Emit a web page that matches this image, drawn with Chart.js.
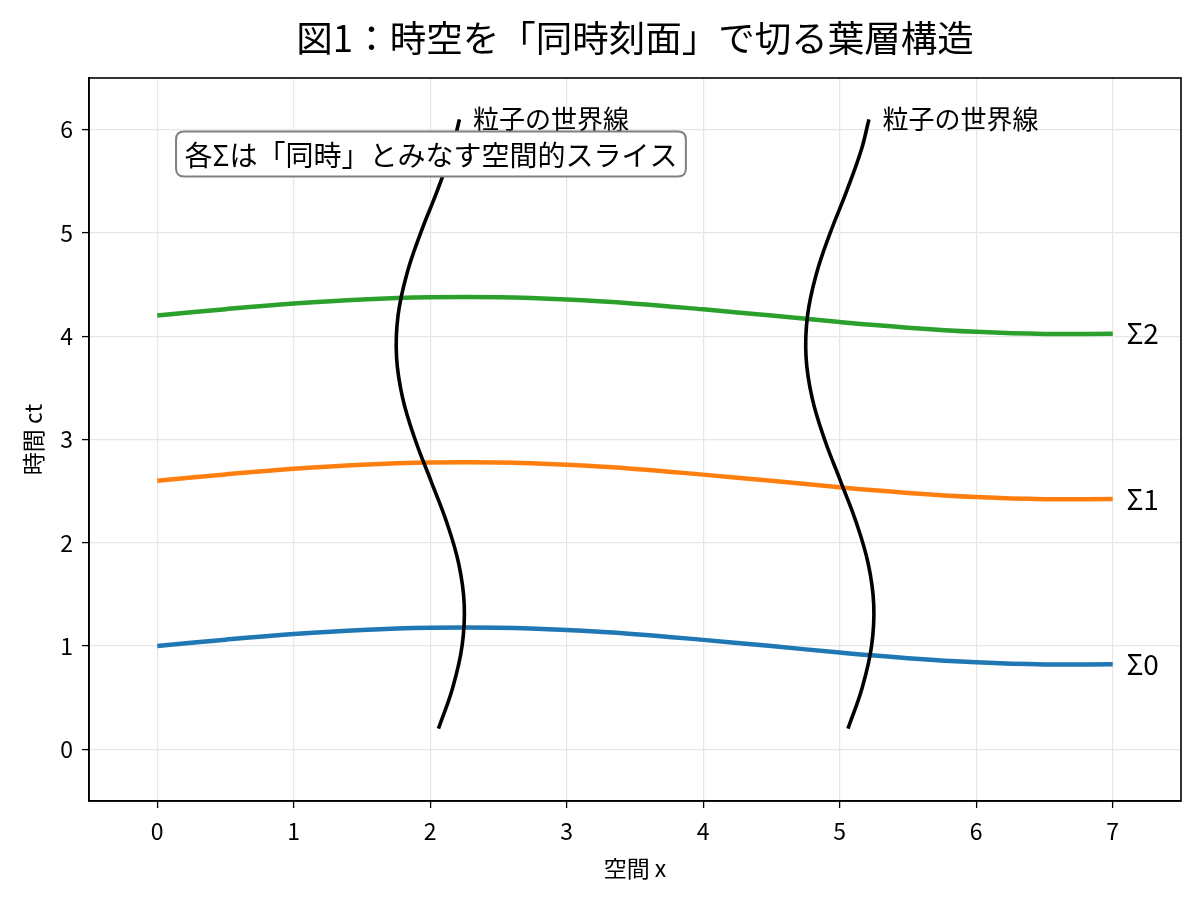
<!DOCTYPE html>
<html><head><meta charset="utf-8">
<script src="https://cdn.jsdelivr.net/npm/chart.js@4/dist/chart.umd.min.js"></script>
<style>html,body{margin:0;padding:0;background:#fff}#wrap{width:1200px;height:903px;position:relative}</style>
</head><body><div id="wrap"><canvas id="c"></canvas></div>
<script>
const titleText = '図1：時空を「同時刻面」で切る葉層構造';
const xLabel = '空間 x';
const yLabel = '時間 ct';
const noteText = '各Σは「同時」とみなす空間的スライス';
const worldLabel = '粒子の世界線';
const sliceLabels = ['Σ0', 'Σ1', 'Σ2'];
const sliceColors = ['#1f77b4', '#ff7f0e', '#2ca02c'];
const xTicks = [0, 1, 2, 3, 4, 5, 6, 7];
const yTicks = [0, 1, 2, 3, 4, 5, 6];

const sliceX = [0, 0.5, 1, 1.5, 2, 2.5, 3, 3.5, 4, 4.5, 5, 5.5, 6, 6.5, 7];
const sigma0 = [1.000, 1.062, 1.116, 1.156, 1.177, 1.177, 1.155, 1.115, 1.060, 1.000, 0.937, 0.883, 0.843, 0.822, 0.824];
const sigma1 = [2.600, 2.662, 2.716, 2.756, 2.777, 2.777, 2.755, 2.715, 2.660, 2.600, 2.537, 2.483, 2.443, 2.422, 2.424];
const sigma2 = [4.200, 4.262, 4.316, 4.356, 4.377, 4.377, 4.355, 4.315, 4.260, 4.200, 4.137, 4.083, 4.043, 4.022, 4.024];

const worldT = [0.2, 0.6, 1.0, 1.4, 1.8, 2.2, 2.6, 3.0, 3.4, 3.8, 4.2, 4.6, 5.0, 5.4, 5.8, 6.1];
const particleA = [2.060, 2.165, 2.233, 2.249, 2.208, 2.120, 2.005, 1.889, 1.798, 1.753, 1.764, 1.828, 1.930, 2.049, 2.157, 2.214];
const particleB = [5.060, 5.165, 5.233, 5.249, 5.208, 5.120, 5.005, 4.889, 4.798, 4.753, 4.764, 4.828, 4.930, 5.049, 5.157, 5.214];

const FONT = '"Noto Sans CJK JP", "Noto Sans", sans-serif';

const slices = [sigma0, sigma1, sigma2];
const worldlines = [particleA, particleB];

const datasets = [];
worldlines.forEach((xs) => {
  datasets.push({
    data: worldT.map((t, i) => ({ x: xs[i], y: t })),
    borderColor: '#000000', borderWidth: 3.6, tension: 0.4,
    borderCapStyle: 'butt', pointRadius: 0, showLine: true
  });
});
slices.forEach((ys, k) => {
  datasets.push({
    data: sliceX.map((x, i) => ({ x: x, y: ys[i] })),
    borderColor: sliceColors[k], borderWidth: 4.5, tension: 0.4,
    borderCapStyle: 'butt', pointRadius: 0, showLine: true
  });
});

function roundRect(ctx, x, y, w, h, r) {
  ctx.beginPath();
  ctx.moveTo(x + r, y);
  ctx.lineTo(x + w - r, y);
  ctx.quadraticCurveTo(x + w, y, x + w, y + r);
  ctx.lineTo(x + w, y + h - r);
  ctx.quadraticCurveTo(x + w, y + h, x + w - r, y + h);
  ctx.lineTo(x + r, y + h);
  ctx.quadraticCurveTo(x, y + h, x, y + h - r);
  ctx.lineTo(x, y + r);
  ctx.quadraticCurveTo(x, y, x + r, y);
  ctx.closePath();
}

const deco = {
  id: 'deco',
  afterDatasetsDraw(chart) {
    const ctx = chart.ctx;
    const xs = chart.scales.x, ys = chart.scales.y;
    ctx.save();
    ctx.fillStyle = '#000';
    ctx.textAlign = 'left';
    ctx.textBaseline = 'middle';
    ctx.font = '28px ' + FONT;
    slices.forEach((arr, k) => {
      const lx = sliceX[sliceX.length - 1] + 0.1;
      ctx.fillText(sliceLabels[k], xs.getPixelForValue(lx), ys.getPixelForValue(arr[arr.length - 1]));
    });
    ctx.font = '26px ' + FONT;
    worldlines.forEach((arr) => {
      const lx = arr[arr.length - 1] + 0.1;
      const ly = worldT[worldT.length - 1];
      ctx.fillText(worldLabel, xs.getPixelForValue(lx), ys.getPixelForValue(ly));
    });
    ctx.font = '28px ' + FONT;
    const tx = xs.getPixelForValue(0.2), ty = ys.getPixelForValue(5.765);
    const tw = ctx.measureText(noteText).width;
    const pad = 8.5, th = 28;
    roundRect(ctx, tx - pad, ty - th / 2 - pad, tw + 2 * pad, th + 2 * pad, 8);
    ctx.fillStyle = '#ffffff';
    ctx.fill();
    ctx.strokeStyle = '#808080';
    ctx.lineWidth = 2;
    ctx.stroke();
    ctx.fillStyle = '#000';
    ctx.fillText(noteText, tx, ty + 1);
    ctx.restore();
  },
  afterDraw(chart) {
    const ctx = chart.ctx;
    const ca = chart.chartArea;
    ctx.save();
    ctx.strokeStyle = '#000';
    ctx.lineWidth = 1.6;
    ctx.strokeRect(ca.left, ca.top, ca.right - ca.left, ca.bottom - ca.top);
    ctx.fillStyle = '#000';
    ctx.textAlign = 'center';
    ctx.textBaseline = 'middle';
    ctx.font = '36.5px ' + FONT;
    ctx.fillText(titleText, (ca.left + ca.right) / 2, 38);
    ctx.font = '23px ' + FONT;
    ctx.fillText(xLabel, (ca.left + ca.right) / 2, 868);
    ctx.translate(33, (ca.top + ca.bottom) / 2);
    ctx.rotate(-Math.PI / 2);
    ctx.fillText(yLabel, 0, 0);
    ctx.restore();
  }
};

new Chart(document.getElementById('c'), {
  type: 'scatter',
  data: { datasets: datasets },
  options: {
    responsive: true, maintainAspectRatio: false, animation: false,
    layout: { padding: { top: 78, right: 19, left: 0, bottom: 0 } },
    plugins: { legend: { display: false }, tooltip: { enabled: false }, title: { display: false } },
    scales: {
      x: {
        type: 'linear', min: -0.5, max: 7.5,
        afterBuildTicks: (s) => { s.ticks = xTicks.map(v => ({ value: v })); },
        afterFit: (s) => { s.height = 102; },
        grid: { color: '#e6e6e6', lineWidth: 1.2, tickColor: '#000', tickLength: 7, tickWidth: 1.3 },
        border: { display: true, color: '#000', width: 1.6 },
        ticks: { color: '#000', font: { family: FONT, size: 23 }, padding: 9, maxRotation: 0 }
      },
      y: {
        type: 'linear', min: -0.5, max: 6.5,
        afterBuildTicks: (s) => { s.ticks = yTicks.map(v => ({ value: v })); },
        afterFit: (s) => { s.width = 89; },
        grid: { color: '#e6e6e6', lineWidth: 1.2, tickColor: '#000', tickLength: 7, tickWidth: 1.3 },
        border: { display: true, color: '#000', width: 1.6 },
        ticks: { color: '#000', font: { family: FONT, size: 23 }, padding: 9 }
      }
    }
  },
  plugins: [deco]
});
</script>
</body></html>
